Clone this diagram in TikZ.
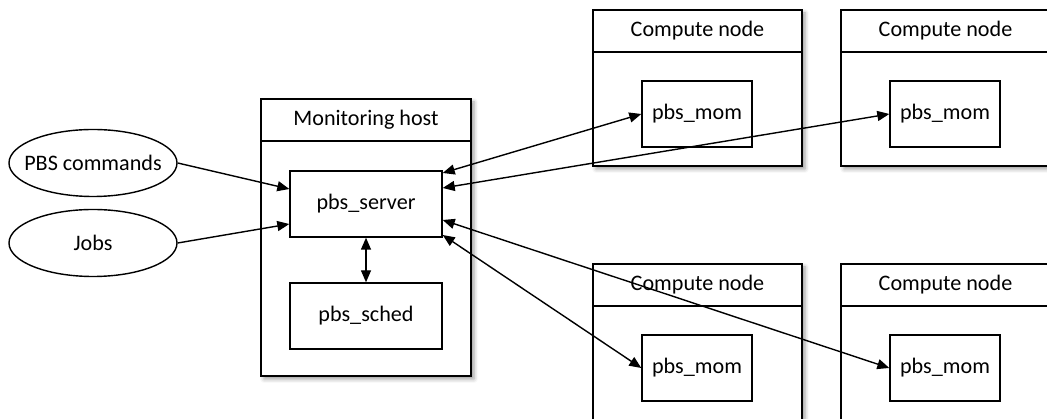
\documentclass[tikz,border=0pt]{standalone}
\usepackage{fontspec}
\setmainfont{Carlito}
\usetikzlibrary{arrows.meta,shapes.geometric,shadows.blur}

\begin{document}
\begin{tikzpicture}[line width=0.8pt, >={Triangle[length=0.24cm,width=0.2cm]},
  every node/.style={font=\fontsize{12.6}{15}\selectfont},
  shade box/.style={draw, fill=white, blur shadow={shadow xshift=0.06cm, shadow yshift=-0.06cm, shadow blur radius=0.08cm, shadow opacity=40}},
  hostbox/.style={shade box, minimum width=4.2cm, minimum height=5.54cm},
  nodebox/.style={shade box, minimum width=4.18cm, minimum height=3.12cm},
  titlebox/.style={draw, minimum width=4.18cm, minimum height=0.84cm, anchor=north},
  daemon/.style={draw, fill=white, minimum height=1.32cm},
  source/.style={draw, ellipse, minimum width=3.36cm, minimum height=1.34cm, inner xsep=-0.25cm}]
%\draw [help lines] (0,0) grid (21,8);
\useasboundingbox (0,0) rectangle (20.94,8.38);
\node [source] (cmds) at (1.86,5.12) {PBS commands};
\node [source] (jobs) at (1.86,3.52) {Jobs};
\node [hostbox] (host) at (7.32,3.63) {};
\node [titlebox, minimum width=4.2cm] (hosttitle) at (host.north) {Monitoring host};
\node [daemon, minimum width=3.04cm] (server) at (7.32,4.30) {pbs\_server};
\node [daemon, minimum width=3.04cm] (sched) at (7.32,2.06) {pbs\_sched};
\node [nodebox] (cn1) at (13.95,6.62) {};
\node [nodebox] (cn2) at (18.91,6.62) {};
\node [nodebox] (cn3) at (13.95,1.54) {};
\node [nodebox] (cn4) at (18.91,1.54) {};
\node [titlebox] (cn1title) at (cn1.north) {Compute node};
\node [titlebox] (cn2title) at (cn2.north) {Compute node};
\node [titlebox] (cn3title) at (cn3.north) {Compute node};
\node [titlebox] (cn4title) at (cn4.north) {Compute node};
\node [daemon, minimum width=2.2cm] (mom1) at (13.94,6.10) {pbs\_mom};
\node [daemon, minimum width=2.2cm] (mom2) at (18.90,6.10) {pbs\_mom};
\node [daemon, minimum width=2.2cm] (mom3) at (13.94,1.02) {pbs\_mom};
\node [daemon, minimum width=2.2cm] (mom4) at (18.90,1.02) {pbs\_mom};
\draw [->] (cmds.east) -- ([yshift=0.30cm]server.west);
\draw [->] (jobs.east) -- ([yshift=-0.40cm]server.west);
\draw [<->] (server.south) -- (sched.north);
\draw [<->] ([yshift=0.62cm]server.east) -- (mom1.west);
\draw [<->] ([yshift=0.32cm]server.east) -- (mom2.west);
\draw [<->] ([yshift=-0.32cm]server.east) -- (mom4.west);
\draw [<->] ([yshift=-0.62cm]server.east) -- (mom3.west);
\end{tikzpicture}
\end{document}
